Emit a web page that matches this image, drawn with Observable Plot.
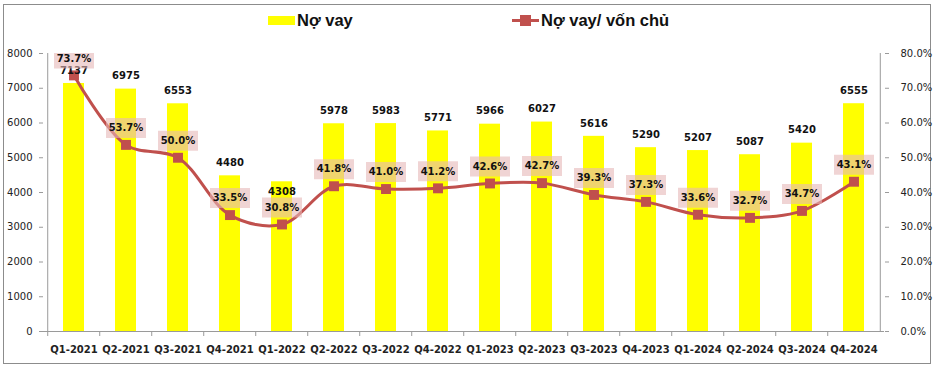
<!DOCTYPE html>
<html>
<head>
<meta charset="utf-8">
<script src="https://cdn.jsdelivr.net/npm/d3@7"></script>
<script src="https://cdn.jsdelivr.net/npm/@observablehq/plot@0.6"></script>
<style>
  html, body { margin: 0; padding: 0; background: #fff; }
  #wrap { position: relative; width: 936px; height: 370px; overflow: hidden; font-family: "DejaVu Sans", sans-serif; }
  #border { position: absolute; left: 3px; top: 4px; width: 926px; height: 358px; border: 1px solid #8c8c8c; box-sizing: content-box; }
  .leg { position: absolute; font-family: "Liberation Sans", Arial, sans-serif; font-weight: bold; font-size: 16.5px; color: #111; line-height: 1; }
  #chart { position: absolute; left: 0; top: 0; }
  #chart g[aria-label="x-axis tick label"] text { font-weight: bold; }
</style>
</head>
<body>
<div id="wrap">
  <div id="border"></div>
  <div id="chart"></div>
  <div style="position:absolute;left:268px;top:16px;width:27px;height:9px;background:#FFFF00;"></div>
  <div class="leg" style="left:297px;top:12px;">Nợ vay</div>
  <div style="position:absolute;left:512px;top:19px;width:27px;height:3px;background:#C0504D;"></div>
  <div style="position:absolute;left:520px;top:15px;width:11px;height:11px;background:#C0504D;"></div>
  <div class="leg" style="left:541px;top:12px;">Nợ vay/ vốn chủ</div>
</div>
<script>
const categories = ["Q1-2021","Q2-2021","Q3-2021","Q4-2021","Q1-2022","Q2-2022","Q3-2022","Q4-2022","Q1-2023","Q2-2023","Q3-2023","Q4-2023","Q1-2024","Q2-2024","Q3-2024","Q4-2024"];
const debt = [7137, 6975, 6553, 4480, 4308, 5978, 5983, 5771, 5966, 6027, 5616, 5290, 5207, 5087, 5420, 6555];
const ratio = [73.7, 53.7, 50.0, 33.5, 30.8, 41.8, 41.0, 41.2, 42.6, 42.7, 39.3, 37.3, 33.6, 32.7, 34.7, 43.1];
const leftTicks = [0, 1000, 2000, 3000, 4000, 5000, 6000, 7000, 8000];

const rows = categories.map((c, i) => ({cat: c, debt: debt[i], ratio: ratio[i], r: ratio[i] * 100}));
// In the reference, the Q1-2022 bar label was pushed inside the bar (collision with the line label)
const shifted = new Set(["Q1-2022"]);

const W = 936, H = 370, mL = 43, mR = 52, mT = 53, mB = 39;
const step = (W - mL - mR) / categories.length;

const boxSymbol = { draw(ctx) { ctx.rect(-20, -10, 40, 20); } };

const chart = Plot.plot({
  width: W, height: H,
  marginLeft: mL, marginRight: mR, marginTop: mT, marginBottom: mB,
  style: { fontFamily: "DejaVu Sans, sans-serif", fontSize: "10px", background: "transparent", overflow: "visible", color: "#222" },
  x: { domain: categories, paddingInner: 0.6, paddingOuter: 0.3, axis: null },
  y: { domain: [0, 8000], axis: null },
  marks: [
    Plot.barY(rows, { x: "cat", y: "debt", fill: "#FFFF00" }),
    Plot.ruleY([0], { stroke: "#9a9a9a" }),
    Plot.ruleX([categories[0]], { dx: -step / 2, stroke: "#9a9a9a" }),
    Plot.ruleX([categories[categories.length - 1]], { dx: step / 2, stroke: "#9a9a9a" }),
    Plot.axisY({ anchor: "left", label: null, ticks: leftTicks, tickSize: 4, tickPadding: 7, tickFormat: d => String(d), stroke: "#9a9a9a", fill: "#222" }),
    Plot.axisY({ anchor: "right", label: null, ticks: leftTicks, tickSize: 4, tickPadding: 12, tickFormat: d => (d / 100).toFixed(1) + "%", stroke: "#9a9a9a", fill: "#222" }),
    Plot.axisX({ anchor: "bottom", label: null, tickSize: 5, tickPadding: 0, tickFormat: () => "", dx: -step / 2, stroke: "#9a9a9a" }),
    Plot.axisX({ anchor: "bottom", label: null, tickSize: 0, tickPadding: 14, fill: "#222", fontWeight: "bold" }),
    Plot.line(rows, { x: "cat", y: "r", stroke: "#C0504D", strokeWidth: 3, curve: "catmull-rom" }),
    Plot.dot(rows, { x: "cat", y: "r", symbol: "square", r: 5.6, fill: "#C0504D", stroke: null }),
    Plot.text(rows.filter(d => !shifted.has(d.cat)), { x: "cat", y: "debt", text: d => String(d.debt), dy: -13, fontWeight: "bold", fill: "#111" }),
    Plot.text(rows.filter(d => shifted.has(d.cat)), { x: "cat", y: "debt", text: d => String(d.debt), dy: 10, fontWeight: "bold", fill: "#111" }),
    Plot.dot(rows, { x: "cat", y: "r", symbol: boxSymbol, fill: "#E6B8B7", fillOpacity: 0.6, stroke: null, dy: -17, clip: true }),
    Plot.text(rows, { x: "cat", y: "r", text: d => d.ratio.toFixed(1) + "%", dy: -17, fontWeight: "bold", fill: "#111" })
  ]
});
document.getElementById("chart").appendChild(chart);
</script>
</body>
</html>
